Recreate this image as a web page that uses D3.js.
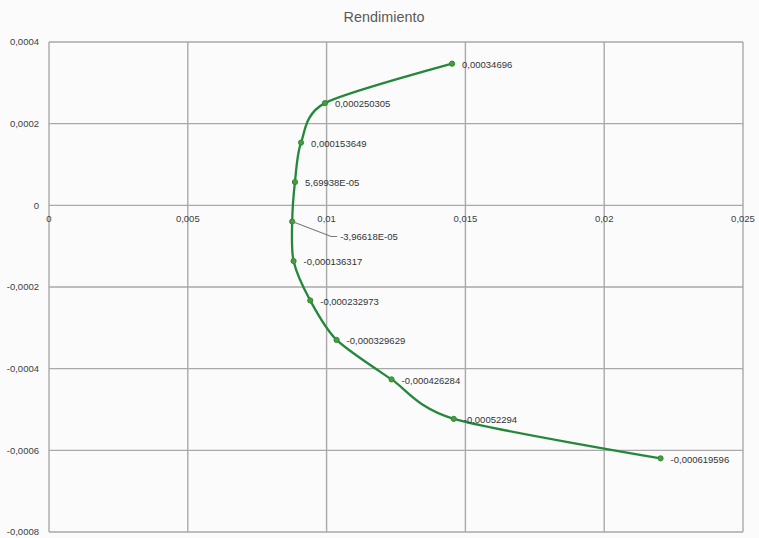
<!DOCTYPE html>
<html lang="es">
<head>
<meta charset="utf-8">
<script src="https://cdn.jsdelivr.net/npm/d3@7"></script>
<style>
  html, body { margin: 0; padding: 0; background: #fbfbfb; }
  svg { display: block; font-family: "Liberation Sans", Arial, sans-serif; }
</style>
</head>
<body>
<svg id="chart" width="759" height="538"></svg>
<script>
// Series: x (abscissa) and rendimiento (ordinate) for each measured point
const xValues = [0.01452, 0.00994, 0.00908, 0.00886, 0.00876, 0.00881, 0.00941, 0.01036, 0.01234, 0.01458, 0.02203];
const yValues = [0.00034696, 0.000250305, 0.000153649, 5.69938e-05, -3.96618e-05, -0.000136317, -0.000232973, -0.000329629, -0.000426284, -0.00052294, -0.000619596];

// Axis ticks
const xTicks = [0, 0.005, 0.01, 0.015, 0.02, 0.025];
const yTicks = [0.0004, 0.0002, 0, -0.0002, -0.0004, -0.0006, -0.0008];

const title = "Rendimiento";

const W = 759, H = 538;
const plot = { left: 49, right: 743, top: 42, bottom: 532 };

const svg = d3.select("#chart");

const x = d3.scaleLinear().domain([0, 0.025]).range([plot.left, plot.right]);
const y = d3.scaleLinear().domain([-0.0008, 0.0004]).range([plot.bottom, plot.top]);

const loc = d3.formatLocale({ decimal: ",", thousands: ".", grouping: [3], currency: ["", "€"], minus: "-" });
const tickFmt = loc.format("~g");

// Spreadsheet "General" style label: comma decimal, exponent for very small values
function generalFmt(v) {
  if (v !== 0 && Math.abs(v) < 1e-4) {
    const [m, e] = v.toExponential().split("e");
    const ex = parseInt(e, 10);
    const sign = ex < 0 ? "-" : "+";
    return m.replace(".", ",") + "E" + sign + String(Math.abs(ex)).padStart(2, "0");
  }
  return String(v).replace(".", ",");
}

const gridColor = "#a9a9a9";

// Title
svg.append("text")
  .attr("x", 384).attr("y", 22)
  .attr("text-anchor", "middle")
  .attr("font-size", 14.4)
  .attr("fill", "#595959")
  .text(title);

// Vertical gridlines
svg.append("g").selectAll("line").data(xTicks).join("line")
  .attr("x1", d => x(d)).attr("x2", d => x(d))
  .attr("y1", plot.top).attr("y2", plot.bottom)
  .attr("stroke", gridColor).attr("stroke-width", 1.4);

// Horizontal gridlines
svg.append("g").selectAll("line").data(yTicks).join("line")
  .attr("x1", plot.left).attr("x2", plot.right)
  .attr("y1", d => y(d)).attr("y2", d => y(d))
  .attr("stroke", gridColor).attr("stroke-width", 1.4);

// Y tick labels
svg.append("g").selectAll("text").data(yTicks).join("text")
  .attr("x", 39).attr("y", d => y(d))
  .attr("dy", "0.35em")
  .attr("text-anchor", "end")
  .attr("font-size", 9.5)
  .attr("fill", "#404040")
  .text(d => tickFmt(d));

// X tick labels, just under the zero line
svg.append("g").selectAll("text").data(xTicks).join("text")
  .attr("x", d => x(d)).attr("y", y(0) + 13)
  .attr("dy", "0.35em")
  .attr("text-anchor", "middle")
  .attr("font-size", 9.5)
  .attr("fill", "#404040")
  .text(d => tickFmt(d));

const pts = xValues.map((v, i) => ({ x: v, y: yValues[i] }));

// Smoothed series line
const line = d3.line()
  .x(d => x(d.x)).y(d => y(d.y))
  .curve(d3.curveCardinal.tension(0.2));

svg.append("path")
  .datum(pts)
  .attr("d", line)
  .attr("fill", "none")
  .attr("stroke", "#23883a")
  .attr("stroke-width", 2.3);

// Markers
svg.append("g").selectAll("circle").data(pts).join("circle")
  .attr("cx", d => x(d.x)).attr("cy", d => y(d.y))
  .attr("r", 2.6)
  .attr("fill", "#4c9a40")
  .attr("stroke", "#2f8a36")
  .attr("stroke-width", 1);

// Data labels; the point closest to the zero line gets a leader line
const leaderIndex = 4;
const labels = svg.append("g");
pts.forEach((d, i) => {
  const px = x(d.x), py = y(d.y);
  let lx = px + 10, ly = py + 1;
  if (i === leaderIndex) {
    lx = px + 48; ly = py + 15;
    labels.append("polyline")
      .attr("points", [[px, py], [lx - 9, ly], [lx - 3, ly]].map(p => p.join(",")).join(" "))
      .attr("fill", "none")
      .attr("stroke", "#7a7a7a")
      .attr("stroke-width", 1.1);
  }
  labels.append("text")
    .attr("x", lx).attr("y", ly)
    .attr("dy", "0.35em")
    .attr("font-size", 9.5)
    .attr("fill", "#333")
    .text(generalFmt(d.y));
});
</script>
</body>
</html>
